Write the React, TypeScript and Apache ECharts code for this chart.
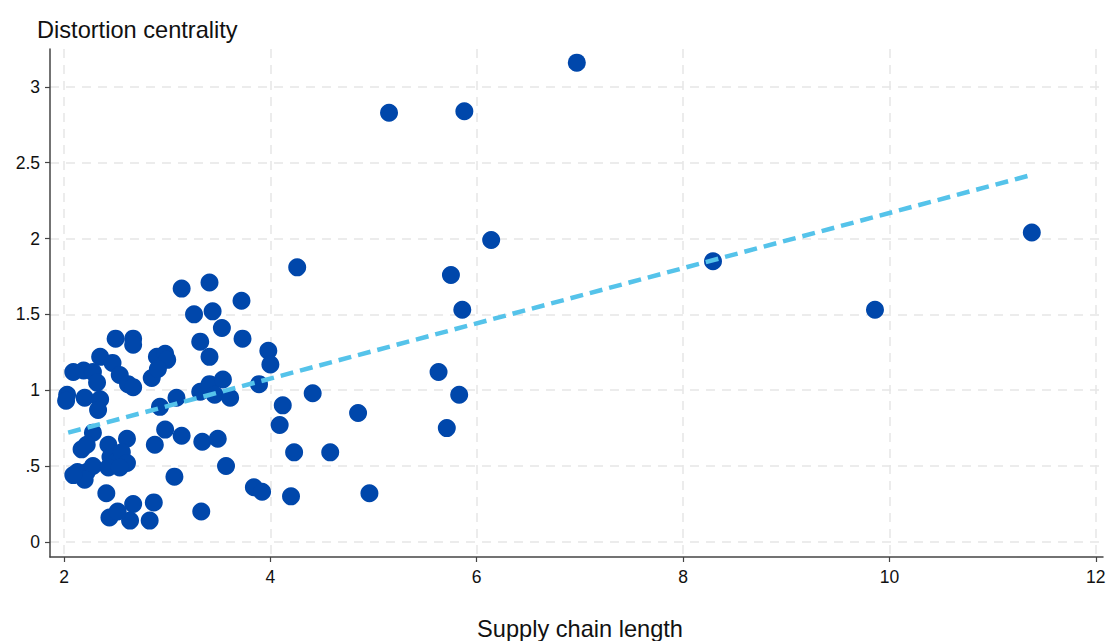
import React, { useEffect, useRef } from "react";
import * as echarts from "echarts";

// Supply chain length (x) and distortion centrality (y) for each point
const X_VALUES = [
  2.03, 2.02, 2.09, 2.19, 2.28, 2.32, 2.2, 2.35, 2.33, 2.35, 2.47, 2.5, 2.67, 2.67,
  2.54, 2.62, 2.67, 2.85, 2.9, 2.98, 3.0, 2.91, 2.93, 2.28, 2.17, 2.22, 2.43, 2.61,
  2.88, 2.45, 2.51, 2.56, 2.61, 2.13, 2.22, 2.28, 2.43, 2.54, 2.2, 2.09, 2.98, 2.41,
  2.67, 2.87, 2.44, 2.52, 2.64, 2.83,
  3.14, 3.41, 3.72, 3.26, 3.44, 3.53, 3.32, 3.73, 3.41, 3.98, 4.0, 3.32, 3.41, 3.54,
  3.46, 3.61, 3.89, 3.09, 4.41, 4.12, 4.09, 4.85, 3.14, 3.34, 3.49, 3.57, 4.23, 4.58,
  3.07, 3.84, 3.92, 4.2, 4.96, 3.33, 4.26,
  5.15, 5.88, 6.97, 6.14, 5.75, 5.86, 5.63, 5.83, 5.71, 8.29, 9.86, 11.38,
];
const Y_VALUES = [
  0.97, 0.93, 1.12, 1.13, 1.12, 1.05, 0.95, 0.94, 0.87, 1.22, 1.18, 1.34, 1.34, 1.3,
  1.1, 1.04, 1.02, 1.08, 1.22, 1.24, 1.2, 1.14, 0.89, 0.72, 0.61, 0.64, 0.64, 0.68,
  0.64, 0.56, 0.53, 0.59, 0.52, 0.46, 0.46, 0.5, 0.49, 0.49, 0.41, 0.44, 0.74, 0.32,
  0.25, 0.26, 0.16, 0.2, 0.14, 0.14,
  1.67, 1.71, 1.59, 1.5, 1.52, 1.41, 1.32, 1.34, 1.22, 1.26, 1.17, 0.99, 1.04, 1.07,
  0.97, 0.95, 1.04, 0.95, 0.98, 0.9, 0.77, 0.85, 0.7, 0.66, 0.68, 0.5, 0.59, 0.59,
  0.43, 0.36, 0.33, 0.3, 0.32, 0.2, 1.81,
  2.83, 2.84, 3.16, 1.99, 1.76, 1.53, 1.12, 0.97, 0.75, 1.85, 1.53, 2.04,
];

// Fitted line end points
const FIT_X = [2.04, 11.38];
const FIT_Y = [0.72, 2.42];

const X_TICKS = [2, 4, 6, 8, 10, 12];
const Y_TICKS = [0, 0.5, 1, 1.5, 2, 2.5, 3];
const Y_TICK_LABELS = ["0", ".5", "1", "1.5", "2", "2.5", "3"];

const X_TITLE = "Supply chain length";
const Y_TITLE = "Distortion centrality";

const FONT = "'Liberation Sans', Arial, sans-serif";

export default function App() {
  const ref = useRef<HTMLDivElement>(null);

  useEffect(() => {
    if (!ref.current) return;
    const chart = echarts.init(ref.current, undefined, { renderer: "svg" });

    const scatterData = X_VALUES.map((x, i) => [x, Y_VALUES[i]]);
    const fitData = FIT_X.map((x, i) => [x, FIT_Y[i]]);

    const gridLine = {
      show: true,
      lineStyle: { color: "#e6e6e6", width: 1.5, type: [9, 7] as any },
    };

    chart.setOption({
      animation: false,
      backgroundColor: "#ffffff",
      textStyle: { fontFamily: FONT },
      grid: {
        left: 50,
        right: 3,
        top: 49,
        bottom: 84,
        containLabel: false,
        outerBoundsMode: "none",
      } as any,
      xAxis: {
        type: "value",
        min: 1.864,
        max: 12.07,
        axisLine: { show: true, onZero: false, lineStyle: { color: "#444", width: 1.5 } },
        axisTick: {
          show: true,
          length: 5,
          customValues: X_TICKS,
          lineStyle: { color: "#444", width: 1.2 },
        },
        axisLabel: {
          customValues: X_TICKS,
          color: "#111",
          fontSize: 17.5,
          margin: 11,
          fontFamily: FONT,
        },
        splitLine: gridLine,
      } as any,
      yAxis: {
        type: "value",
        min: -0.1,
        max: 3.25,
        axisLine: { show: true, onZero: false, lineStyle: { color: "#444", width: 1.5 } },
        axisTick: {
          show: true,
          length: 5,
          customValues: Y_TICKS,
          lineStyle: { color: "#444", width: 1.2 },
        },
        axisLabel: {
          customValues: Y_TICKS,
          color: "#111",
          fontSize: 17.5,
          margin: 10,
          fontFamily: FONT,
          formatter: (v: number) => {
            const idx = Y_TICKS.findIndex((t) => Math.abs(t - v) < 1e-6);
            return idx >= 0 ? Y_TICK_LABELS[idx] : "";
          },
        },
        splitLine: gridLine,
      } as any,
      graphic: [
        {
          type: "text",
          x: 37,
          y: 30,
          style: {
            text: Y_TITLE,
            fontSize: 23.6,
            fill: "#111",
            fontFamily: FONT,
            align: "left",
            verticalAlign: "middle",
          },
        },
        {
          type: "text",
          x: 580,
          y: 629,
          style: {
            text: X_TITLE,
            fontSize: 23.6,
            fill: "#111",
            fontFamily: FONT,
            align: "center",
            verticalAlign: "middle",
          },
        },
      ],
      series: [
        {
          type: "scatter",
          data: scatterData,
          symbol: "circle",
          symbolSize: 18,
          itemStyle: { color: "#0047ab", opacity: 1 },
          z: 2,
        },
        {
          type: "line",
          data: fitData,
          showSymbol: false,
          symbol: "none",
          lineStyle: { color: "#55c3ea", width: 4.5, type: [13, 7] as any },
          z: 3,
        },
      ],
    });

    return () => chart.dispose();
  }, []);

  return (
    <div
      ref={ref}
      style={{ position: "fixed", left: 0, top: 0, width: 1106, height: 641 }}
    />
  );
}
